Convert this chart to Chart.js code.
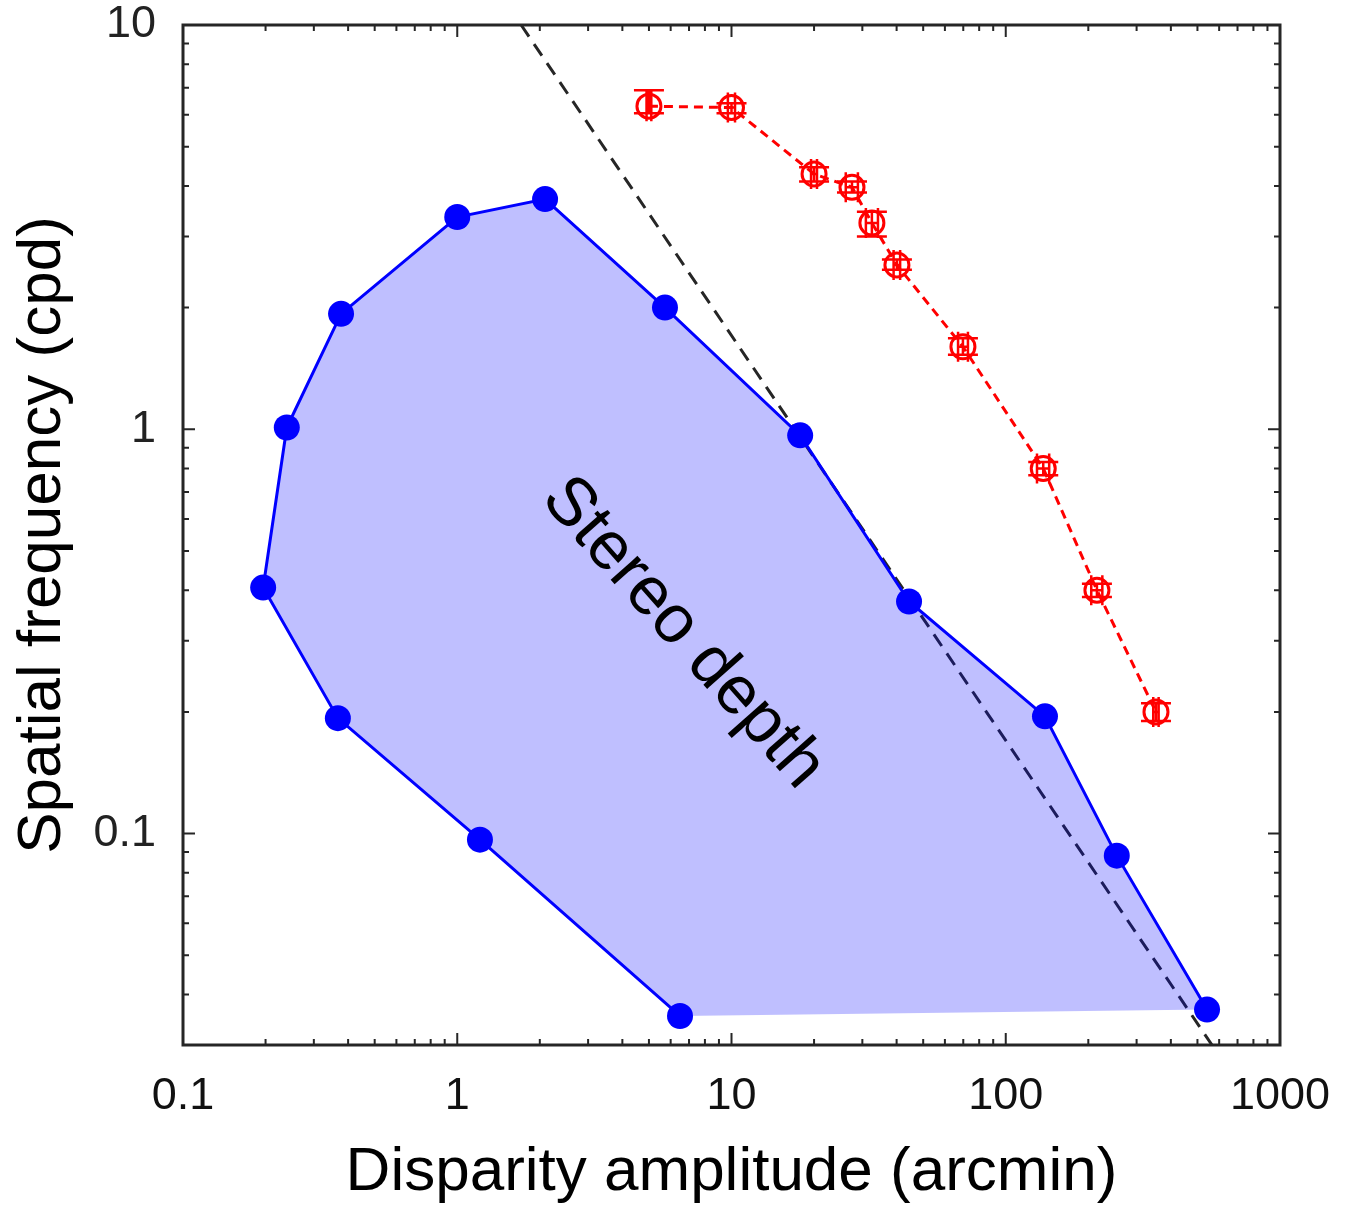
<!DOCTYPE html>
<html><head><meta charset="utf-8">
<script src="https://cdn.jsdelivr.net/npm/chart.js@4/dist/chart.umd.min.js"></script>
<style>html,body{margin:0;padding:0;background:#fff;} #wrap{width:1347px;height:1208px;position:relative;}</style>
</head><body><div id="wrap"><canvas id="c" width="1347" height="1208"></canvas></div>
<script>
// Stereo-depth region outline (arcmin, cpd), in drawing order
const regionX = [6.49, 1.21, 0.367, 0.196, 0.239, 0.377, 1.00, 2.09, 5.72, 17.8, 44.4, 139, 254, 542];
const regionY = [0.0354, 0.0966, 0.193, 0.406, 1.01, 1.93, 3.35, 3.71, 2.00, 0.966, 0.375, 0.195, 0.0882, 0.0367];
// Red threshold series with error bars
const threshX   = [5.0, 10.0, 20.0, 27.5, 32.5, 40.1, 69.8, 137, 215, 353];
const threshY   = [6.3, 6.25, 4.28, 3.97, 3.24, 2.55, 1.60, 0.80, 0.40, 0.20];
const threshXLo = [4.9, 9.7, 19.5, 26.1, 30.9, 39.0, 67.0, 130, 205, 345];
const threshXHi = [5.1, 10.3, 20.5, 28.9, 34.2, 41.2, 72.8, 144, 225, 361];
const threshYLo = [6.05, 6.05, 4.10, 3.85, 3.00, 2.48, 1.53, 0.77, 0.385, 0.19];
const threshYHi = [6.90, 6.40, 4.45, 4.10, 3.45, 2.63, 1.68, 0.83, 0.415, 0.21];
// Dashed reference line endpoints
const limitX = [1.71, 565];
const limitY = [10, 0.03];
// Axis tick labels
const xTickLabels = ['0.1', '1', '10', '100', '1000'];
const yTickLabels = ['0.1', '1', '10'];
const xRange = [0.1, 1000];
const yRange = [0.03, 10];

const toPts = (xs, ys) => xs.map((v, i) => ({x: v, y: ys[i]}));
const FONT = "'Liberation Sans', Arial, Helvetica, sans-serif";

function logTicks(min, max, majors) {
  const out = [];
  const lo = Math.floor(Math.log10(min)), hi = Math.ceil(Math.log10(max));
  for (let e = lo; e <= hi; e++) {
    for (let k = 1; k <= 9; k++) {
      const v = +(k * Math.pow(10, e)).toPrecision(6);
      if (v >= min * 0.9999 && v <= max * 1.0001) {
        out.push({value: v, major: majors.some(m => Math.abs(+m - v) / v < 1e-6)});
      }
    }
  }
  return out;
}
function labelFor(value, labels) {
  const m = labels.find(l => Math.abs(+l - value) / value < 1e-6);
  return m === undefined ? '' : m;
}
function zeroPad(s) { s.paddingTop = 0; s.paddingBottom = 0; s.paddingLeft = 0; s.paddingRight = 0; }

const frame = {
  id: 'frame',
  afterDraw(chart) {
    const {ctx, chartArea: a, scales: {x, y}} = chart;
    ctx.save();
    ctx.strokeStyle = '#262626';
    ctx.lineWidth = 2;
    ctx.beginPath();
    x.ticks.forEach(t => {
      const px = x.getPixelForValue(t.value);
      const len = t.major ? 12 : 6;
      ctx.moveTo(px, a.bottom); ctx.lineTo(px, a.bottom - len);
      ctx.moveTo(px, a.top); ctx.lineTo(px, a.top + len);
    });
    y.ticks.forEach(t => {
      const py = y.getPixelForValue(t.value);
      const len = t.major ? 12 : 6;
      ctx.moveTo(a.left, py); ctx.lineTo(a.left + len, py);
      ctx.moveTo(a.right, py); ctx.lineTo(a.right - len, py);
    });
    ctx.stroke();
    ctx.lineWidth = 3;
    ctx.strokeRect(a.left, a.top, a.right - a.left, a.bottom - a.top);
    ctx.restore();
  }
};

const errorBars = {
  id: 'errorBars',
  afterDatasetsDraw(chart) {
    const {ctx, scales: {x, y}} = chart;
    ctx.save();
    ctx.strokeStyle = '#ff0000';
    ctx.lineWidth = 2.5;
    const cap = 15;
    threshX.forEach((xv, i) => {
      const px = x.getPixelForValue(xv), py = y.getPixelForValue(threshY[i]);
      const xl = x.getPixelForValue(threshXLo[i]), xh = x.getPixelForValue(threshXHi[i]);
      const yl = y.getPixelForValue(threshYLo[i]), yh = y.getPixelForValue(threshYHi[i]);
      ctx.beginPath();
      ctx.moveTo(xl, py); ctx.lineTo(xh, py);
      ctx.moveTo(xl, py - cap); ctx.lineTo(xl, py + cap);
      ctx.moveTo(xh, py - cap); ctx.lineTo(xh, py + cap);
      ctx.moveTo(px, yl); ctx.lineTo(px, yh);
      ctx.moveTo(px - cap, yl); ctx.lineTo(px + cap, yl);
      ctx.moveTo(px - cap, yh); ctx.lineTo(px + cap, yh);
      ctx.stroke();
    });
    ctx.restore();
  }
};

const regionLabel = {
  id: 'regionLabel',
  afterDatasetsDraw(chart) {
    const {ctx, scales: {x, y}} = chart;
    const px = x.getPixelForValue(6.65), py = y.getPixelForValue(0.313);
    ctx.save();
    ctx.translate(px, py);
    ctx.rotate(48.5 * Math.PI / 180);
    ctx.fillStyle = '#000';
    ctx.font = '68px ' + FONT;
    ctx.textAlign = 'center';
    ctx.textBaseline = 'middle';
    ctx.fillText('Stereo depth', 0, 0);
    ctx.restore();
  }
};

new Chart(document.getElementById('c'), {
  type: 'line',
  data: {
    datasets: [
      {
        label: 'Threshold',
        data: toPts(threshX, threshY),
        order: 0,
        borderColor: '#ff0000',
        borderWidth: 3,
        borderDash: [9, 6],
        fill: false,
        pointStyle: 'circle',
        pointRadius: 12,
        pointBorderWidth: 3,
        pointBorderColor: '#ff0000',
        pointBackgroundColor: 'rgba(0,0,0,0)',
        tension: 0
      },
      {
        label: 'Stereo depth',
        data: toPts(regionX, regionY),
        order: 1,
        borderColor: '#0000ff',
        borderWidth: 3,
        backgroundColor: 'rgba(0,0,255,0.25)',
        fill: 'shape',
        pointRadius: 13,
        pointBackgroundColor: '#0000ff',
        pointBorderColor: '#0000ff',
        pointBorderWidth: 0,
        tension: 0
      },
      {
        label: 'Limit',
        data: toPts(limitX, limitY),
        order: 2,
        borderColor: '#262626',
        borderWidth: 3,
        borderDash: [14, 9],
        fill: false,
        pointRadius: 0,
        tension: 0
      }
    ]
  },
  options: {
    responsive: false,
    animation: false,
    devicePixelRatio: 1,
    layout: {padding: {top: 25, right: 67, left: 0, bottom: 0}},
    plugins: {legend: {display: false}, tooltip: {enabled: false}},
    scales: {
      x: {
        type: 'logarithmic',
        min: xRange[0], max: xRange[1],
        grid: {display: false, drawTicks: false},
        border: {display: false},
        afterBuildTicks: s => { s.ticks = logTicks(xRange[0], xRange[1], xTickLabels); },
        afterFit: s => { s.height = 163; zeroPad(s); },
        ticks: {
          autoSkip: false, maxRotation: 0, minRotation: 0, padding: 29,
          color: '#111', font: {family: FONT, size: 45, lineHeight: 1},
          callback: v => labelFor(v, xTickLabels)
        },
        title: {
          display: true, text: 'Disparity amplitude (arcmin)', color: '#000',
          font: {family: FONT, size: 62, lineHeight: 1}, padding: {top: 0, bottom: 4}
        }
      },
      y: {
        type: 'logarithmic',
        min: yRange[0], max: yRange[1],
        grid: {display: false, drawTicks: false},
        border: {display: false},
        afterBuildTicks: s => { s.ticks = logTicks(yRange[0], yRange[1], yTickLabels); },
        afterFit: s => { s.width = 183; zeroPad(s); },
        ticks: {
          autoSkip: false, padding: 27,
          color: '#222', font: {family: FONT, size: 45, lineHeight: 1},
          callback: v => labelFor(v, yTickLabels)
        },
        title: {
          display: true, text: 'Spatial frequency (cpd)', color: '#000',
          font: {family: FONT, size: 62, lineHeight: 1}, padding: {top: 12, bottom: 0}
        }
      }
    }
  },
  plugins: [frame, errorBars, regionLabel]
});
</script>
</body></html>
